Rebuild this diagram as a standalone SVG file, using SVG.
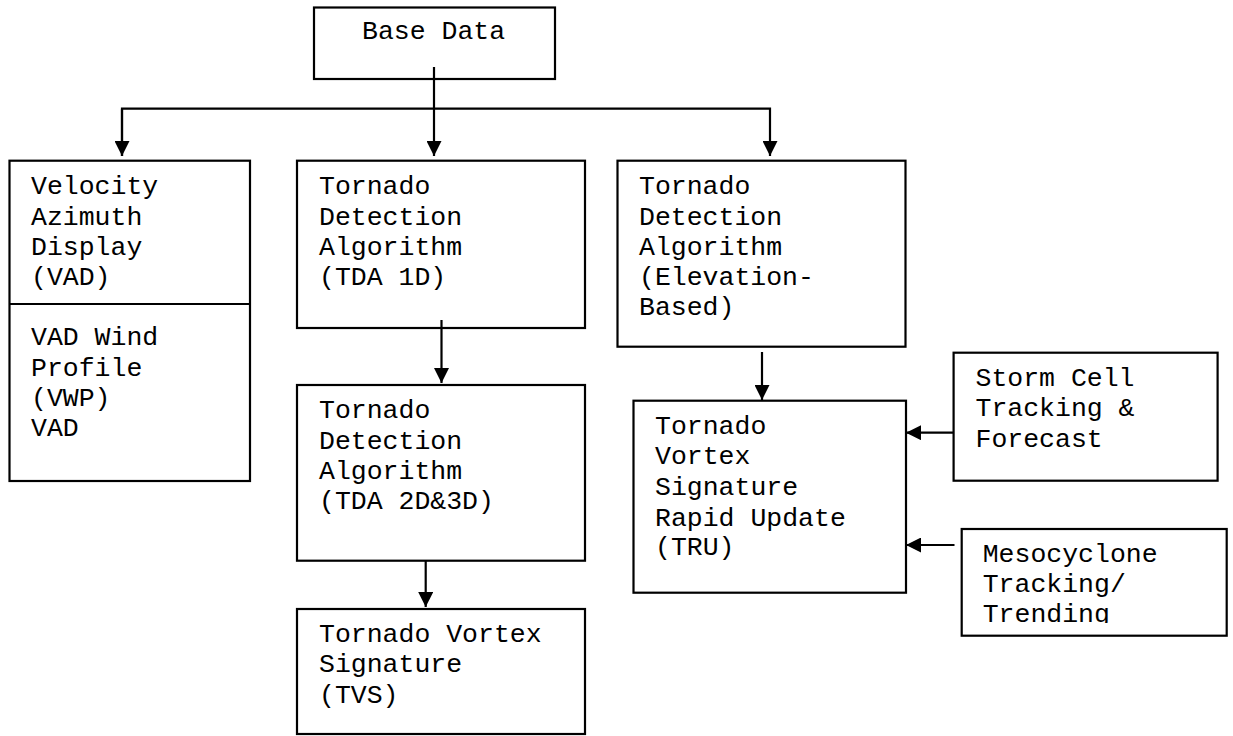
<svg xmlns="http://www.w3.org/2000/svg" width="1233" height="736" viewBox="0 0 1233 736">
<style>
.box{fill:#fff;stroke:#000;stroke-width:2.2}
.t{font-family:"Liberation Mono","Courier New",monospace;font-size:26.5px;fill:#000}
.c{fill:none;stroke:#000;stroke-width:2.2}
</style>
<defs>
<marker id="ah" viewBox="0 0 16 16" refX="16" refY="8" markerWidth="15" markerHeight="15" markerUnits="userSpaceOnUse" orient="auto">
<path d="M0,0 L16,8 L0,16 z" fill="#000"/>
</marker>
<clipPath id="mclip"><rect x="950" y="520" width="283" height="103"/></clipPath>
</defs>
<rect width="1233" height="736" fill="#fff"/>
<g id="base">
<rect class="box" x="314" y="7.5" width="241" height="71.5"/>
<text class="t" x="362" y="39">Base Data</text>
</g>
<g id="vad">
<rect class="box" x="9.5" y="160.7" width="240.5" height="320.3"/>
<line x1="9.5" y1="304" x2="250" y2="304" stroke="#000" stroke-width="2.2"/>
<text class="t" x="31" y="194">Velocity</text>
<text class="t" x="31" y="224.5">Azimuth</text>
<text class="t" x="31" y="255">Display</text>
<text class="t" x="31" y="285">(VAD)</text>
<text class="t" x="31" y="345">VAD Wind</text>
<text class="t" x="31" y="375.5">Profile</text>
<text class="t" x="31" y="406">(VWP)</text>
<text class="t" x="31" y="436">VAD</text>
</g>
<g id="tda1d">
<rect class="box" x="297" y="160.7" width="288" height="167.3"/>
<text class="t" x="319" y="194">Tornado</text>
<text class="t" x="319" y="224.5">Detection</text>
<text class="t" x="319" y="255">Algorithm</text>
<text class="t" x="319" y="285">(TDA 1D)</text>
</g>
<g id="tdaelev">
<rect class="box" x="617.5" y="160.7" width="288" height="186"/>
<text class="t" x="639" y="194">Tornado</text>
<text class="t" x="639" y="224.5">Detection</text>
<text class="t" x="639" y="255">Algorithm</text>
<text class="t" x="639" y="285">(Elevation-</text>
<text class="t" x="639" y="315">Based)</text>
</g>
<g id="tda2d">
<rect class="box" x="297" y="385" width="288" height="175.7"/>
<text class="t" x="319" y="418">Tornado</text>
<text class="t" x="319" y="448.5">Detection</text>
<text class="t" x="319" y="479">Algorithm</text>
<text class="t" x="319" y="509">(TDA 2D&amp;3D)</text>
</g>
<g id="tvs">
<rect class="box" x="297" y="609" width="288" height="125"/>
<text class="t" x="319" y="642">Tornado Vortex</text>
<text class="t" x="319" y="672">Signature</text>
<text class="t" x="319" y="703">(TVS)</text>
</g>
<g id="tru">
<rect class="box" x="633.5" y="400.7" width="272.5" height="192"/>
<text class="t" x="655" y="434">Tornado</text>
<text class="t" x="655" y="464">Vortex</text>
<text class="t" x="655" y="495">Signature</text>
<text class="t" x="655" y="525.5">Rapid Update</text>
<text class="t" x="655" y="555">(TRU)</text>
</g>
<g id="storm">
<rect class="box" x="953.6" y="352.7" width="264" height="128"/>
<text class="t" x="975.5" y="386">Storm Cell</text>
<text class="t" x="975.5" y="416">Tracking &amp;</text>
<text class="t" x="975.5" y="446.5">Forecast</text>
</g>
<g id="meso">
<rect class="box" x="961.7" y="529" width="265" height="106.7"/>
<g clip-path="url(#mclip)">
<text class="t" x="982.7" y="561.5">Mesocyclone</text>
<text class="t" x="982.7" y="591.5">Tracking/</text>
<text class="t" x="982.7" y="622">Trending</text>
</g>
</g>
<g id="connectors">
<line class="c" x1="434" y1="67" x2="434" y2="156" marker-end="url(#ah)"/>
<polyline class="c" points="122,156 122,108.7 770,108.7 770,156" marker-end="url(#ah)"/>
<path class="c" d="M122,108.7 V156" marker-end="url(#ah)"/>
<line class="c" x1="441.5" y1="320" x2="441.5" y2="383" marker-end="url(#ah)"/>
<line class="c" x1="425.7" y1="561" x2="425.7" y2="607" marker-end="url(#ah)"/>
<line class="c" x1="762" y1="352" x2="762" y2="400" marker-end="url(#ah)"/>
<line class="c" x1="953.6" y1="432.7" x2="906" y2="432.7" marker-end="url(#ah)"/>
<line class="c" x1="954.5" y1="545" x2="906" y2="545" marker-end="url(#ah)"/>
</g>
</svg>
